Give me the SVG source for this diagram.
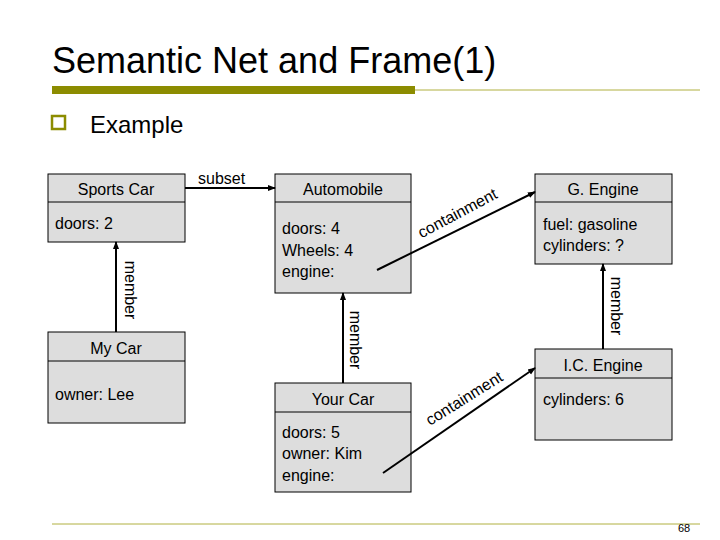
<svg xmlns="http://www.w3.org/2000/svg" width="720" height="540" viewBox="0 0 720 540">
<style>
text{font-family:"Liberation Sans",Arial,sans-serif;fill:#000}
.box{fill:#dddddd;stroke:#000;stroke-width:1}
.div{stroke:#000;stroke-width:1}
.h{font-size:16px;text-anchor:middle}
.b{font-size:16px}
.lbl{font-size:16px}
.c{stroke:#000;stroke-width:2;fill:none;marker-end:url(#a)}
</style>
<defs><marker id="a" markerWidth="8" markerHeight="8" refX="7" refY="4" orient="auto" markerUnits="userSpaceOnUse"><path d="M0,1 L8,4 L0,7 z" fill="#000"/></marker></defs>
<rect width="720" height="540" fill="#fff"/>
<text x="52" y="73" font-size="36">Semantic Net and Frame(1)</text>
<rect x="52" y="86" width="363" height="8" fill="#8c8c00"/>
<line x1="415" y1="90" x2="700" y2="90" stroke="#b0b040" stroke-width="1"/>
<rect x="52" y="116" width="13" height="13" fill="none" stroke="#8c8c00" stroke-width="2.5"/>
<text x="90" y="133" font-size="24">Example</text>
<line x1="52" y1="524" x2="700" y2="524" stroke="#b0b040" stroke-width="1"/>
<text x="678" y="532" font-size="11">68</text>

<g id="sportscar"><rect class="box" x="48" y="174" width="137" height="68"/><line class="div" x1="48" y1="202" x2="185" y2="202"/><text class="h" x="116" y="195">Sports Car</text><text class="b" x="55" y="229">doors: 2</text></g>
<g id="automobile"><rect class="box" x="275" y="174" width="136" height="119"/><line class="div" x1="275" y1="202" x2="411" y2="202"/><text class="h" x="343" y="195">Automobile</text><text class="b" x="282" y="234">doors: 4</text><text class="b" x="282" y="256">Wheels: 4</text><text class="b" x="282" y="277">engine:</text></g>
<g id="mycar"><rect class="box" x="48" y="332" width="137" height="91"/><line class="div" x1="48" y1="361" x2="185" y2="361"/><text class="h" x="116" y="354">My Car</text><text class="b" x="55" y="400">owner: Lee</text></g>
<g id="yourcar"><rect class="box" x="275" y="383" width="136" height="109"/><line class="div" x1="275" y1="412" x2="411" y2="412"/><text class="h" x="343" y="405">Your Car</text><text class="b" x="282" y="438">doors: 5</text><text class="b" x="282" y="459">owner: Kim</text><text class="b" x="282" y="481">engine:</text></g>
<g id="gengine"><rect class="box" x="535" y="174" width="137" height="90"/><line class="div" x1="535" y1="202" x2="672" y2="202"/><text class="h" x="603" y="195">G. Engine</text><text class="b" x="543" y="230">fuel: gasoline</text><text class="b" x="543" y="251">cylinders: ?</text></g>
<g id="icengine"><rect class="box" x="535" y="349" width="137" height="91"/><line class="div" x1="535" y1="378" x2="672" y2="378"/><text class="h" x="603" y="371">I.C. Engine</text><text class="b" x="543" y="405">cylinders: 6</text></g>

<g id="connectors">
<line class="c" x1="185" y1="188" x2="275" y2="188"/>
<text class="lbl" x="198" y="184">subset</text>
<line class="c" x1="116" y1="332" x2="116" y2="242"/>
<text class="lbl" transform="translate(125,290) rotate(90)" text-anchor="middle">member</text>
<line class="c" x1="343" y1="383" x2="343" y2="293"/>
<text class="lbl" transform="translate(350,340) rotate(90)" text-anchor="middle">member</text>
<line class="c" x1="603" y1="349" x2="603" y2="264"/>
<text class="lbl" transform="translate(611,306) rotate(90)" text-anchor="middle">member</text>
<line class="c" x1="377" y1="270" x2="535" y2="192"/>
<text class="lbl" font-size="17" transform="translate(460,218) rotate(-28)" text-anchor="middle">containment</text>
<line class="c" x1="383" y1="473" x2="535" y2="368"/>
<text class="lbl" font-size="17" transform="translate(467,403) rotate(-32)" text-anchor="middle">containment</text>
</g>
</svg>
